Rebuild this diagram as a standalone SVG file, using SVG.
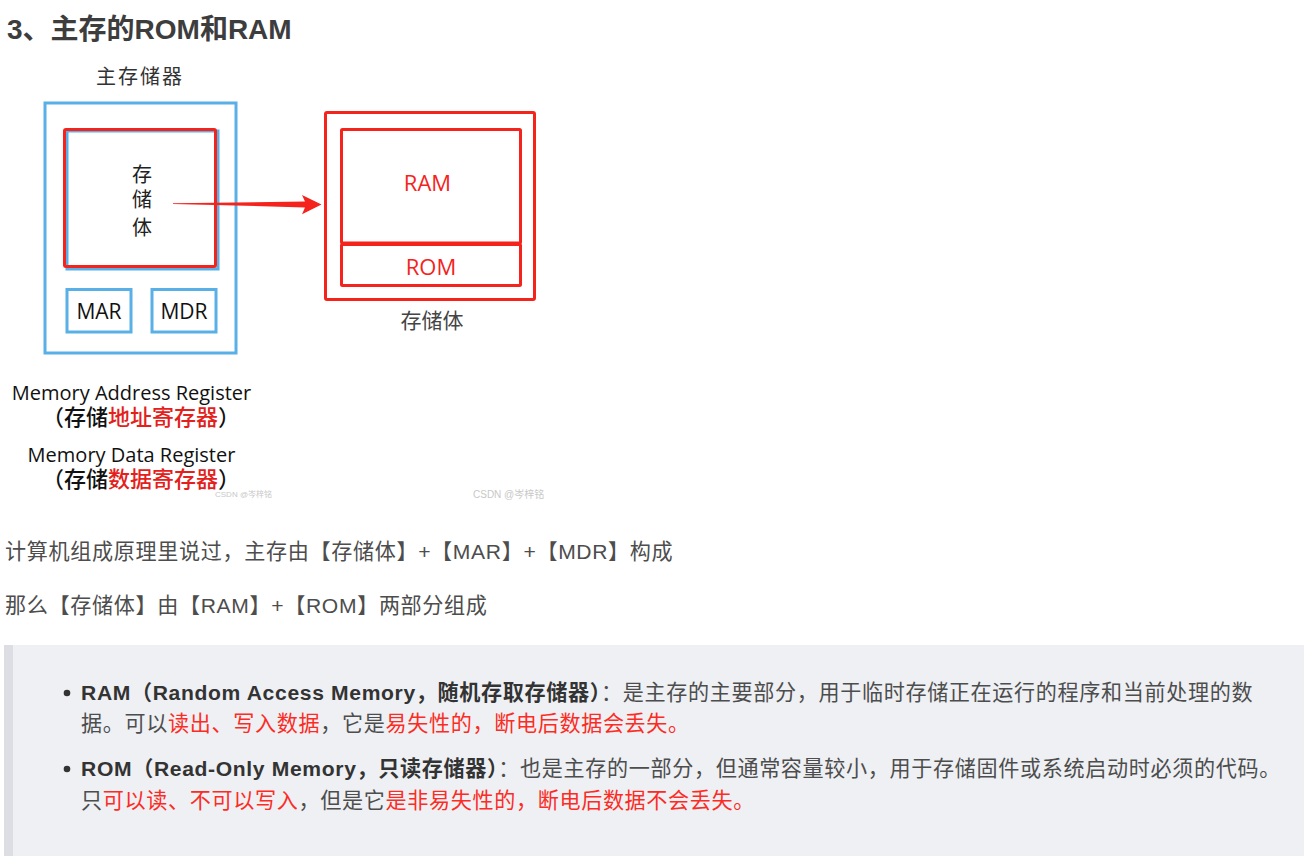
<svg xmlns="http://www.w3.org/2000/svg" width="1314" height="856" viewBox="0 0 1314 856">
<style>
.cn{font-family:"Liberation Sans","Noto Sans CJK SC",sans-serif;}
.dg{font-family:"Open Sans","Noto Sans CJK SC",sans-serif;}
.body{font-size:21.1px;letter-spacing:0.65px;fill:#4d4d4d;}
.red{fill:#fc2c24;}
.b{font-weight:bold;fill:#333333;}
.blue{fill:none;stroke:#58b0e6;stroke-width:3;}
.rbox{fill:none;stroke:#f4231c;stroke-width:3;}
.wm{font-family:"Liberation Sans","Noto Sans CJK SC",sans-serif;fill:#c8c8c8;}
</style>
<rect x="0" y="0" width="1314" height="856" fill="#ffffff"/>
<text class="cn" x="7" y="39" font-size="28" font-weight="bold" fill="#3d3d3d">3、主存的ROM和RAM</text>

<g id="main-memory">
  <text class="dg" x="140" y="84" font-size="20" fill="#333" text-anchor="middle" letter-spacing="2">主存储器</text>
  <rect class="blue" x="45" y="103" width="191" height="250"/>
</g>
<g id="storage-body-left">
  <rect class="blue" x="67" y="131" width="151" height="138"/>
  <rect class="rbox" x="64.5" y="129.5" width="151" height="137" rx="1.5"/>
  <text class="dg" x="142" y="182" font-size="20" fill="#222" text-anchor="middle">存</text>
  <text class="dg" x="142" y="207" font-size="20" fill="#222" text-anchor="middle">储</text>
  <text class="dg" x="142" y="235" font-size="20" fill="#222" text-anchor="middle">体</text>
</g>
<g id="mar">
  <rect class="blue" x="67" y="289.5" width="64" height="42.5"/>
  <text class="dg" x="99" y="318.5" font-size="21" font-weight="500" fill="#111" text-anchor="middle">MAR</text>
</g>
<g id="mdr">
  <rect class="blue" x="152" y="289.5" width="64" height="42.5"/>
  <text class="dg" x="184" y="318.5" font-size="21" font-weight="500" fill="#111" text-anchor="middle">MDR</text>
</g>

<g id="storage-body-right">
  <rect class="rbox" x="325.5" y="112.5" width="209" height="187" rx="1.5"/>
  <text class="dg" x="432" y="328" font-size="21" fill="#444" text-anchor="middle">存储体</text>
</g>
<g id="ram">
  <rect class="rbox" x="341.5" y="129.5" width="179" height="113.5" rx="1"/>
  <text class="dg" x="427.5" y="190.5" font-size="22" fill="#f4231c" text-anchor="middle">RAM</text>
</g>
<g id="rom">
  <rect class="rbox" x="341.5" y="244.5" width="179" height="41" rx="1"/>
  <text class="dg" x="431" y="274.5" font-size="22" fill="#f4231c" text-anchor="middle">ROM</text>
</g>

<g id="connectors">
  <polygon points="173,203.3 305,201.6 302,195 321.5,204.6 302,214.2 305,207.4 173,203.9" fill="#f4231c"/>
</g>

<g id="register-labels">
  <text class="dg" x="131.5" y="400" font-size="20" font-weight="500" fill="#111" text-anchor="middle">Memory Address Register</text>
  <text class="dg" x="141" y="425" font-size="22" font-weight="500" fill="#111" text-anchor="middle">（存储<tspan fill="#e3201a">地址寄存器</tspan>）</text>
  <text class="dg" x="131.5" y="462" font-size="20" font-weight="500" fill="#111" text-anchor="middle">Memory Data Register</text>
  <text class="dg" x="141" y="487" font-size="22" font-weight="500" fill="#111" text-anchor="middle">（存储<tspan fill="#e3201a">数据寄存器</tspan>）</text>
</g>
<text class="wm" x="215" y="497" font-size="8">CSDN @岑梓铭</text>
<text class="wm" x="473" y="498" font-size="10">CSDN @岑梓铭</text>

<text class="cn body" x="5" y="559">计算机组成原理里说过，主存由【存储体】+【MAR】+【MDR】构成</text>
<text class="cn body" x="5" y="613">那么【存储体】由【RAM】+【ROM】两部分组成</text>

<rect x="4" y="645" width="1300" height="211" fill="#eef0f4"/>
<rect x="4" y="645" width="9" height="211" fill="#dddee4"/>
<circle cx="67" cy="693" r="3.3" fill="#333"/>
<circle cx="67" cy="769" r="3.3" fill="#333"/>
<text class="cn body" x="81" y="700"><tspan class="b">RAM（Random Access Memory，随机存取存储器）</tspan>：是主存的主要部分，用于临时存储正在运行的程序和当前处理的数</text>
<text class="cn body" x="81" y="731">据。可以<tspan class="red">读出、写入数据</tspan>，它是<tspan class="red">易失性的，断电后数据会丢失。</tspan></text>
<text class="cn body" x="81" y="776"><tspan class="b">ROM（Read-Only Memory，只读存储器）</tspan>：也是主存的一部分，但通常容量较小，用于存储固件或系统启动时必须的代码。</text>
<text class="cn body" x="81" y="808">只<tspan class="red">可以读、不可以写入</tspan>，但是它<tspan class="red">是非易失性的，断电后数据不会丢失。</tspan></text>
</svg>
